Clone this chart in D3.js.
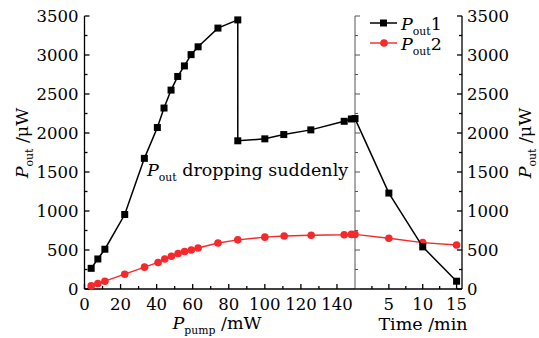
<!DOCTYPE html>
<html><head><meta charset="utf-8">
<script src="https://cdn.jsdelivr.net/npm/d3@7"></script>
<style>body{margin:0;background:#fff}svg{display:block}text{font-family:"DejaVu Serif",serif;fill:#000}</style>
</head><body><svg id="c" width="539" height="338"></svg>
<script>
// ---- data ----
const pump1 = [3.7, 7.4, 11.3, 22.3, 33.2, 40.4, 44.1, 48, 51.7, 55.4, 59.1, 63, 74, 85, 85, 100, 110.5, 125.5, 144, 148];
const pout1Pump = [265, 385, 510, 955, 1675, 2070, 2320, 2550, 2725, 2860, 3005, 3105, 3345, 3450, 1900, 1925, 1980, 2040, 2150, 2180];
const pump2 = [3.7, 7.4, 11.3, 22.3, 33.3, 40.8, 44.5, 48.2, 51.9, 55.5, 59.2, 63, 74, 85, 100, 110.7, 125.7, 144, 148];
const pout2Pump = [40, 70, 100, 190, 280, 340, 385, 420, 455, 480, 500, 525, 590, 630, 665, 680, 690, 695, 700];
const timeMin = [0, 5, 10, 15];
const pout1Time = [2185, 1230, 540, 100];
const pout2Time = [700, 650, 595, 565];
const yTicks = [0, 500, 1000, 1500, 2000, 2500, 3000, 3500];
const pumpTicks = [0, 20, 40, 60, 80, 100, 120, 140];
const timeTicks = [5, 10, 15];

const svg = d3.select("#c");
const x0 = 84.5, xDiv = 355, x1 = 462, yB = 289, yT = 16;
const xP = d3.scaleLinear().domain([0, 150]).range([x0, xDiv]);
const xT = d3.scaleLinear().domain([0, 15.8]).range([xDiv, x1]);
const y = d3.scaleLinear().domain([0, 3500]).range([yB, yT]);
const RED = "#f5282b";

// axes lines
const g = svg.append("g").attr("stroke", "#000").attr("stroke-width", 1.3);
g.append("line").attr("x1", x0).attr("x2", x0).attr("y1", yT).attr("y2", yB);
g.append("line").attr("x1", x1).attr("x2", x1).attr("y1", yT).attr("y2", yB);
g.append("line").attr("x1", xDiv).attr("x2", xDiv).attr("y1", yT).attr("y2", yB).attr("stroke", "#555").attr("stroke-width", 1);
g.append("line").attr("x1", x0).attr("x2", x1).attr("y1", yB).attr("y2", yB);

// y ticks
const yMinor = d3.range(0, 3501, 250);
yMinor.forEach(v => {
  const maj = v % 500 === 0, L = maj ? 5 : 3;
  g.append("line").attr("x1", x0).attr("x2", x0 + L).attr("y1", y(v)).attr("y2", y(v));
  g.append("line").attr("x1", x1).attr("x2", x1 - L).attr("y1", y(v)).attr("y2", y(v));
  g.append("line").attr("x1", xDiv).attr("x2", xDiv + L).attr("y1", y(v)).attr("y2", y(v)).attr("stroke", "#555").attr("stroke-width", 1);
});
yTicks.forEach(v => {
  svg.append("text").attr("x", x0 - 6).attr("y", y(v) + 6).attr("text-anchor", "end").attr("font-size", 16.5).text(v);
  svg.append("text").attr("x", x1 + 5).attr("y", y(v) + 6).attr("text-anchor", "start").attr("font-size", 16.5).text(v);
});
// x ticks pump
d3.range(0, 150, 10).forEach(v => {
  const L = v % 20 === 0 ? 5 : 3;
  g.append("line").attr("x1", xP(v)).attr("x2", xP(v)).attr("y1", yB).attr("y2", yB - L);
});
pumpTicks.forEach(v => {
  svg.append("text").attr("x", xP(v)).attr("y", yB + 21).attr("text-anchor", "middle").attr("font-size", 16.5).text(v);
});
[2.5, 5, 7.5, 10, 12.5, 15].forEach(v => {
  const L = v % 5 === 0 ? 5 : 3;
  g.append("line").attr("x1", xT(v)).attr("x2", xT(v)).attr("y1", yB).attr("y2", yB - L);
});
timeTicks.forEach(v => {
  svg.append("text").attr("x", xT(v)).attr("y", yB + 21).attr("text-anchor", "middle").attr("font-size", 16.5).text(v);
});

// series
const line = (xs) => d3.line().x(d => xs(d[0])).y(d => y(d[1]));
const p1 = pump1.map((v, i) => [v, pout1Pump[i]]);
const p2 = pump2.map((v, i) => [v, pout2Pump[i]]);
const t1 = timeMin.map((v, i) => [v, pout1Time[i]]);
const t2 = timeMin.map((v, i) => [v, pout2Time[i]]);
function drawRed(data, xs) {
  svg.append("path").attr("d", line(xs)(data)).attr("fill", "none").attr("stroke", RED).attr("stroke-width", 1.4);
  svg.append("g").selectAll("circle").data(data).join("circle")
    .attr("cx", d => xs(d[0])).attr("cy", d => y(d[1])).attr("r", 3.8).attr("fill", RED);
}
function drawBlack(data, xs) {
  svg.append("path").attr("d", line(xs)(data)).attr("fill", "none").attr("stroke", "#000").attr("stroke-width", 1.5);
  svg.append("g").selectAll("rect").data(data).join("rect")
    .attr("x", d => xs(d[0]) - 3.5).attr("y", d => y(d[1]) - 3.5).attr("width", 7).attr("height", 7).attr("fill", "#000");
}
drawRed(p2, xP); drawRed(t2, xT);
drawBlack(p1, xP); drawBlack(t1, xT);

// rich text helper: P with subscript
function pLabel(parent, x, yy, sub, rest, fs, anchor, rot) {
  const t = parent.append("text").attr("x", x).attr("y", yy).attr("font-size", fs).attr("text-anchor", anchor || "start");
  if (rot) t.attr("transform", `rotate(-90,${x},${yy})`);
  t.append("tspan").attr("font-style", "italic").text("P");
  t.append("tspan").attr("font-size", fs * 0.62).attr("dy", fs * 0.3).text(sub);
  t.append("tspan").attr("dy", -fs * 0.3).text(rest);
  return t;
}
pLabel(svg, 28, 143, "out", " /μW", 17.5, "middle", true);
pLabel(svg, 531, 143, "out", " /μW", 17.5, "middle", true);
pLabel(svg, 217, 329, "pump", " /mW", 17.5, "middle", false);
svg.append("text").attr("x", 423).attr("y", 330).attr("text-anchor", "middle").attr("font-size", 17.5).text("Time /min");
pLabel(svg, 147, 176, "out", " dropping suddenly", 17.5, "start", false);

// legend
svg.append("line").attr("x1", 370).attr("x2", 397).attr("y1", 23).attr("y2", 23).attr("stroke", "#000").attr("stroke-width", 1.5);
svg.append("rect").attr("x", 380).attr("y", 19.5).attr("width", 7).attr("height", 7).attr("fill", "#000");
pLabel(svg, 401, 30, "out", "1", 17.5, "start", false);
svg.append("line").attr("x1", 370).attr("x2", 397).attr("y1", 43).attr("y2", 43).attr("stroke", RED).attr("stroke-width", 1.4);
svg.append("circle").attr("cx", 384).attr("cy", 43).attr("r", 3.8).attr("fill", RED);
pLabel(svg, 401, 50, "out", "2", 17.5, "start", false);
</script></body></html>
